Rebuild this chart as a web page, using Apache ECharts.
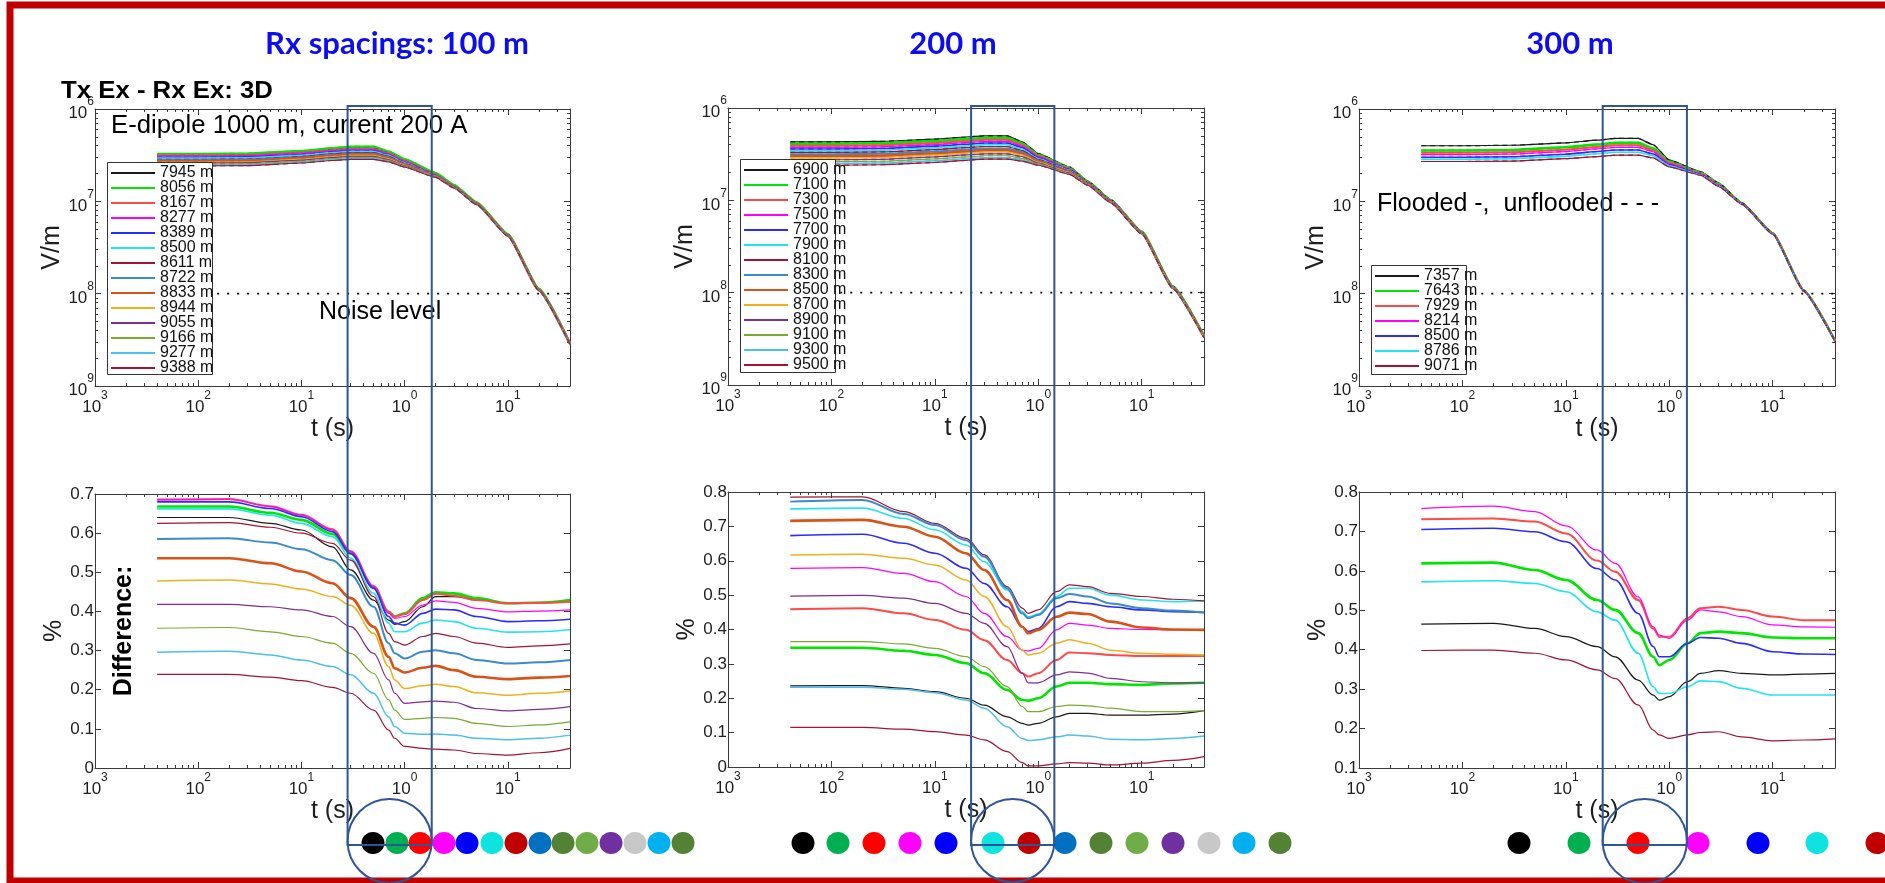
<!DOCTYPE html>
<html><head><meta charset="utf-8">
<script src="https://cdn.jsdelivr.net/npm/echarts@6/dist/echarts.min.js"></script>
<style>html,body{margin:0;padding:0;background:#fff;overflow:hidden}#c{width:1885px;height:883px}</style>
</head><body><div id="c"></div>
<script>
// ---------------- DATA ----------------
const T_TOP = [0.004, 0.01, 0.03, 0.1, 0.2, 0.3, 0.5, 0.7, 1, 2, 3, 5, 10, 20, 40];
const T_BOT = [0.004, 0.02, 0.05, 0.1, 0.2, 0.3, 0.5, 0.7, 0.8, 1, 1.5, 2, 3, 5, 10, 20, 40];

const RX_100 = ['7945 m','8056 m','8167 m','8277 m','8389 m','8500 m','8611 m','8722 m','8833 m','8944 m','9055 m','9166 m','9277 m','9388 m'];
const RX_200 = ['6900 m','7100 m','7300 m','7500 m','7700 m','7900 m','8100 m','8300 m','8500 m','8700 m','8900 m','9100 m','9300 m','9500 m'];
const RX_300 = ['7357 m','7643 m','7929 m','8214 m','8500 m','8786 m','9071 m'];

// Field amplitude (V/m) at T_TOP, one row per receiver
const FIELD_100 = [
 [3.2e-7,3.2e-7,3.22e-7,3.42e-7,3.65e-7,3.78e-7,3.78e-7,3.38e-7,2.8e-7,1.98e-7,1.48e-7,9.6e-8,4.4e-8,1.12e-8,2.9e-9],
 [3.25e-7,3.25e-7,3.28e-7,3.5e-7,3.75e-7,3.9e-7,3.9e-7,3.45e-7,2.85e-7,2.02e-7,1.5e-7,9.7e-8,4.4e-8,1.13e-8,2.9e-9],
 [3.15e-7,3.15e-7,3.17e-7,3.38e-7,3.6e-7,3.72e-7,3.72e-7,3.33e-7,2.76e-7,1.97e-7,1.47e-7,9.6e-8,4.38e-8,1.12e-8,2.9e-9],
 [3.1e-7,3.1e-7,3.12e-7,3.32e-7,3.55e-7,3.66e-7,3.66e-7,3.28e-7,2.72e-7,1.95e-7,1.46e-7,9.55e-8,4.37e-8,1.11e-8,2.9e-9],
 [3.0e-7,3.0e-7,3.03e-7,3.22e-7,3.44e-7,3.55e-7,3.55e-7,3.2e-7,2.66e-7,1.93e-7,1.45e-7,9.5e-8,4.35e-8,1.11e-8,2.88e-9],
 [2.95e-7,2.95e-7,2.97e-7,3.16e-7,3.37e-7,3.48e-7,3.48e-7,3.15e-7,2.62e-7,1.91e-7,1.44e-7,9.45e-8,4.34e-8,1.1e-8,2.88e-9],
 [2.85e-7,2.85e-7,2.87e-7,3.06e-7,3.27e-7,3.38e-7,3.38e-7,3.07e-7,2.57e-7,1.9e-7,1.44e-7,9.4e-8,4.32e-8,1.1e-8,2.87e-9],
 [2.8e-7,2.8e-7,2.82e-7,3.0e-7,3.2e-7,3.3e-7,3.3e-7,3.0e-7,2.53e-7,1.88e-7,1.43e-7,9.4e-8,4.3e-8,1.1e-8,2.87e-9],
 [2.72e-7,2.72e-7,2.74e-7,2.92e-7,3.12e-7,3.22e-7,3.22e-7,2.94e-7,2.49e-7,1.87e-7,1.42e-7,9.35e-8,4.28e-8,1.09e-8,2.86e-9],
 [2.65e-7,2.65e-7,2.67e-7,2.85e-7,3.04e-7,3.14e-7,3.14e-7,2.88e-7,2.45e-7,1.86e-7,1.42e-7,9.3e-8,4.27e-8,1.09e-8,2.86e-9],
 [2.6e-7,2.6e-7,2.62e-7,2.79e-7,2.98e-7,3.07e-7,3.07e-7,2.83e-7,2.42e-7,1.85e-7,1.41e-7,9.3e-8,4.25e-8,1.09e-8,2.85e-9],
 [2.52e-7,2.52e-7,2.54e-7,2.71e-7,2.9e-7,2.99e-7,2.99e-7,2.77e-7,2.39e-7,1.84e-7,1.41e-7,9.25e-8,4.24e-8,1.08e-8,2.85e-9],
 [2.47e-7,2.47e-7,2.49e-7,2.65e-7,2.84e-7,2.92e-7,2.92e-7,2.72e-7,2.37e-7,1.83e-7,1.4e-7,9.2e-8,4.22e-8,1.08e-8,2.84e-9],
 [2.42e-7,2.42e-7,2.44e-7,2.6e-7,2.77e-7,2.85e-7,2.85e-7,2.68e-7,2.35e-7,1.82e-7,1.4e-7,9.2e-8,4.2e-8,1.08e-8,2.84e-9]
];
const FIELD_200 = [
 [4.3e-7,4.3e-7,4.35e-7,4.6e-7,4.85e-7,5.0e-7,5.0e-7,4.3e-7,3.2e-7,2.3e-7,1.62e-7,1.02e-7,4.6e-8,1.18e-8,3.4e-9],
 [4.1e-7,4.1e-7,4.15e-7,4.4e-7,4.6e-7,4.75e-7,4.75e-7,4.15e-7,3.12e-7,2.26e-7,1.6e-7,1.01e-7,4.58e-8,1.17e-8,3.4e-9],
 [3.9e-7,3.9e-7,3.95e-7,4.18e-7,4.38e-7,4.52e-7,4.52e-7,3.98e-7,3.04e-7,2.22e-7,1.58e-7,1.0e-7,4.55e-8,1.16e-8,3.38e-9],
 [3.75e-7,3.75e-7,3.8e-7,4.02e-7,4.22e-7,4.35e-7,4.35e-7,3.85e-7,2.97e-7,2.19e-7,1.57e-7,9.95e-8,4.53e-8,1.16e-8,3.37e-9],
 [3.6e-7,3.6e-7,3.64e-7,3.86e-7,4.05e-7,4.17e-7,4.17e-7,3.72e-7,2.9e-7,2.16e-7,1.56e-7,9.9e-8,4.51e-8,1.15e-8,3.36e-9],
 [3.45e-7,3.45e-7,3.49e-7,3.7e-7,3.88e-7,4.0e-7,4.0e-7,3.59e-7,2.83e-7,2.13e-7,1.54e-7,9.85e-8,4.49e-8,1.15e-8,3.35e-9],
 [3.3e-7,3.3e-7,3.34e-7,3.54e-7,3.72e-7,3.83e-7,3.83e-7,3.46e-7,2.77e-7,2.1e-7,1.53e-7,9.8e-8,4.47e-8,1.14e-8,3.34e-9],
 [3.15e-7,3.15e-7,3.19e-7,3.38e-7,3.54e-7,3.65e-7,3.65e-7,3.33e-7,2.7e-7,2.07e-7,1.52e-7,9.75e-8,4.45e-8,1.14e-8,3.33e-9],
 [3.0e-7,3.0e-7,3.04e-7,3.22e-7,3.38e-7,3.48e-7,3.48e-7,3.2e-7,2.64e-7,2.04e-7,1.51e-7,9.7e-8,4.43e-8,1.13e-8,3.32e-9],
 [2.88e-7,2.88e-7,2.91e-7,3.09e-7,3.24e-7,3.34e-7,3.34e-7,3.09e-7,2.58e-7,2.01e-7,1.5e-7,9.65e-8,4.41e-8,1.13e-8,3.31e-9],
 [2.75e-7,2.75e-7,2.78e-7,2.95e-7,3.1e-7,3.19e-7,3.19e-7,2.97e-7,2.53e-7,1.98e-7,1.49e-7,9.6e-8,4.39e-8,1.12e-8,3.3e-9],
 [2.62e-7,2.62e-7,2.65e-7,2.81e-7,2.95e-7,3.04e-7,3.04e-7,2.85e-7,2.48e-7,1.95e-7,1.48e-7,9.55e-8,4.37e-8,1.12e-8,3.29e-9],
 [2.5e-7,2.5e-7,2.53e-7,2.68e-7,2.82e-7,2.9e-7,2.9e-7,2.74e-7,2.43e-7,1.93e-7,1.47e-7,9.5e-8,4.35e-8,1.11e-8,3.28e-9],
 [2.4e-7,2.4e-7,2.43e-7,2.57e-7,2.71e-7,2.8e-7,2.8e-7,2.66e-7,2.4e-7,1.91e-7,1.46e-7,9.45e-8,4.33e-8,1.11e-8,3.27e-9]
];
const FIELD_300 = [
 [4.0e-7,4.0e-7,4.05e-7,4.3e-7,4.6e-7,4.8e-7,4.8e-7,4.1e-7,2.8e-7,2.1e-7,1.58e-7,9.7e-8,4.55e-8,1.09e-8,3.1e-9],
 [3.55e-7,3.55e-7,3.6e-7,3.85e-7,4.12e-7,4.3e-7,4.3e-7,3.75e-7,2.7e-7,2.06e-7,1.55e-7,9.6e-8,4.52e-8,1.08e-8,3.1e-9],
 [3.35e-7,3.35e-7,3.4e-7,3.63e-7,3.88e-7,4.05e-7,4.05e-7,3.58e-7,2.63e-7,2.03e-7,1.53e-7,9.55e-8,4.5e-8,1.08e-8,3.09e-9],
 [3.2e-7,3.2e-7,3.25e-7,3.46e-7,3.7e-7,3.85e-7,3.85e-7,3.44e-7,2.57e-7,2.0e-7,1.51e-7,9.5e-8,4.48e-8,1.07e-8,3.08e-9],
 [3.0e-7,3.0e-7,3.04e-7,3.24e-7,3.46e-7,3.6e-7,3.6e-7,3.26e-7,2.5e-7,1.97e-7,1.49e-7,9.45e-8,4.46e-8,1.07e-8,3.07e-9],
 [2.85e-7,2.85e-7,2.89e-7,3.07e-7,3.28e-7,3.4e-7,3.4e-7,3.12e-7,2.43e-7,1.95e-7,1.47e-7,9.4e-8,4.44e-8,1.06e-8,3.06e-9],
 [2.7e-7,2.7e-7,2.73e-7,2.9e-7,3.05e-7,3.16e-7,3.16e-7,2.95e-7,2.36e-7,1.92e-7,1.45e-7,9.35e-8,4.42e-8,1.06e-8,3.05e-9]
];

// Difference (%) at T_BOT, one row per receiver
const DIFF_100 = [
 [0.640,0.640,0.625,0.608,0.565,0.506,0.429,0.378,0.367,0.374,0.412,0.438,0.438,0.431,0.421,0.422,0.427],
 [0.668,0.668,0.652,0.634,0.598,0.548,0.463,0.399,0.387,0.395,0.434,0.449,0.446,0.434,0.421,0.422,0.429],
 [0.686,0.687,0.669,0.647,0.610,0.554,0.465,0.399,0.387,0.393,0.429,0.445,0.440,0.429,0.421,0.422,0.425],
 [0.685,0.686,0.668,0.646,0.608,0.553,0.463,0.395,0.382,0.387,0.416,0.427,0.423,0.408,0.399,0.401,0.404],
 [0.680,0.680,0.663,0.642,0.604,0.548,0.459,0.387,0.370,0.365,0.395,0.406,0.404,0.387,0.374,0.376,0.380],
 [0.662,0.662,0.646,0.625,0.591,0.536,0.446,0.370,0.348,0.348,0.370,0.378,0.374,0.357,0.347,0.348,0.353],
 [0.625,0.627,0.615,0.600,0.574,0.531,0.438,0.344,0.323,0.314,0.336,0.344,0.336,0.319,0.308,0.312,0.317],
 [0.585,0.587,0.576,0.559,0.531,0.493,0.412,0.319,0.293,0.280,0.297,0.301,0.293,0.276,0.267,0.270,0.276],
 [0.536,0.536,0.523,0.502,0.472,0.434,0.361,0.284,0.255,0.244,0.256,0.261,0.250,0.233,0.227,0.231,0.235],
 [0.478,0.480,0.470,0.457,0.438,0.416,0.344,0.259,0.225,0.203,0.210,0.214,0.208,0.192,0.186,0.191,0.197],
 [0.418,0.418,0.412,0.404,0.387,0.361,0.293,0.225,0.191,0.165,0.169,0.171,0.168,0.152,0.146,0.150,0.157],
 [0.357,0.359,0.348,0.336,0.319,0.293,0.242,0.174,0.148,0.124,0.127,0.129,0.127,0.114,0.106,0.110,0.118],
 [0.296,0.298,0.289,0.276,0.259,0.238,0.191,0.131,0.106,0.089,0.086,0.087,0.084,0.076,0.072,0.076,0.084],
 [0.239,0.239,0.232,0.223,0.206,0.191,0.148,0.097,0.076,0.055,0.050,0.048,0.046,0.037,0.033,0.039,0.050]
];
const DIFF_200 = [
 [0.236,0.237,0.229,0.219,0.200,0.180,0.146,0.127,0.122,0.127,0.146,0.156,0.156,0.151,0.151,0.154,0.164],
 [0.347,0.347,0.338,0.326,0.302,0.273,0.224,0.195,0.193,0.200,0.234,0.245,0.245,0.241,0.239,0.243,0.245],
 [0.459,0.462,0.447,0.428,0.399,0.369,0.311,0.273,0.263,0.273,0.311,0.333,0.331,0.326,0.323,0.323,0.323],
 [0.578,0.580,0.563,0.539,0.496,0.447,0.379,0.340,0.338,0.345,0.399,0.418,0.413,0.403,0.400,0.399,0.399],
 [0.673,0.677,0.651,0.622,0.578,0.534,0.466,0.408,0.394,0.403,0.466,0.481,0.476,0.466,0.457,0.452,0.450],
 [0.751,0.753,0.723,0.690,0.646,0.597,0.515,0.452,0.437,0.445,0.496,0.520,0.520,0.500,0.486,0.481,0.483],
 [0.785,0.786,0.743,0.709,0.665,0.617,0.525,0.462,0.447,0.457,0.510,0.530,0.525,0.505,0.496,0.488,0.483],
 [0.772,0.777,0.736,0.704,0.660,0.612,0.520,0.447,0.433,0.442,0.491,0.503,0.496,0.476,0.462,0.455,0.449],
 [0.716,0.719,0.699,0.670,0.622,0.573,0.486,0.408,0.389,0.399,0.437,0.449,0.445,0.423,0.406,0.400,0.399],
 [0.617,0.619,0.607,0.588,0.544,0.496,0.408,0.340,0.326,0.331,0.360,0.370,0.360,0.340,0.331,0.328,0.326],
 [0.497,0.499,0.491,0.476,0.447,0.418,0.350,0.273,0.245,0.245,0.268,0.277,0.273,0.258,0.248,0.245,0.245],
 [0.365,0.365,0.358,0.345,0.321,0.292,0.234,0.176,0.161,0.161,0.176,0.180,0.178,0.171,0.161,0.161,0.164],
 [0.232,0.232,0.226,0.216,0.195,0.171,0.117,0.083,0.077,0.079,0.088,0.093,0.090,0.081,0.079,0.083,0.090],
 [0.115,0.115,0.110,0.103,0.093,0.079,0.045,0.013,0.003,0.003,0.009,0.013,0.011,0.006,0.011,0.019,0.030]
];
const DIFF_300 = [
 [0.465,0.467,0.454,0.433,0.408,0.382,0.323,0.285,0.272,0.281,0.319,0.340,0.347,0.340,0.336,0.338,0.340],
 [0.619,0.621,0.602,0.577,0.526,0.501,0.442,0.382,0.361,0.374,0.416,0.442,0.446,0.442,0.431,0.429,0.429],
 [0.731,0.733,0.725,0.695,0.626,0.598,0.526,0.454,0.433,0.433,0.480,0.505,0.509,0.501,0.484,0.475,0.475],
 [0.758,0.764,0.750,0.714,0.653,0.619,0.534,0.458,0.437,0.429,0.475,0.501,0.496,0.484,0.463,0.458,0.457],
 [0.705,0.708,0.699,0.674,0.606,0.577,0.492,0.408,0.382,0.382,0.416,0.431,0.429,0.416,0.395,0.389,0.388],
 [0.572,0.575,0.568,0.547,0.496,0.475,0.391,0.306,0.289,0.289,0.306,0.321,0.319,0.302,0.285,0.285,0.285],
 [0.398,0.399,0.391,0.374,0.349,0.327,0.260,0.196,0.184,0.175,0.184,0.190,0.192,0.179,0.169,0.171,0.174]
];

const NOISE_LEVEL = 1e-8;
const NOISE_T = [0.004, 40];

// tick labels
const X_TICK_VALUES = [0.001, 0.01, 0.1, 1, 10];
const X_TICK_EXP = ['3', '2', '1', '0', '1'];
const Y_TOP_TICK_VALUES = [1e-6, 1e-7, 1e-8, 1e-9];
const Y_TOP_TICK_EXP = ['6', '7', '8', '9'];

// highlighted time windows (s)
const WINDOW_T_100 = [0.28, 1.83];
const WINDOW_T_200 = [0.224, 1.43];
const WINDOW_T_300 = [0.227, 1.48];

// ---------------- STYLE / LAYOUT ----------------
const FONT = "'Liberation Sans', Arial, Helvetica, sans-serif";
const AX = '#3a3a3a';
const TXT = '#1e1e1e';
const SERIES_COLORS = ['#1a1a1a','#00E600','#FF4848','#FF00FF','#2B2BFF','#22E4EE','#A2142F','#3A8BCB','#D95319','#EDB120','#7E2F8E','#77AC30','#4DBEEE','#A2142F'];
const SERIES_WIDTHS = [1.2,2.6,2.0,1.2,1.6,1.6,1.2,2.0,2.6,1.5,1.2,1.2,1.5,1.2];
const COLOR_IDX_FULL = [0,1,2,3,4,5,6,7,8,9,10,11,12,13];
const COLOR_IDX_300 = [0,1,2,3,4,5,13];
const DOT_COLORS = ['#000000','#00B050','#FF0000','#FF00FF','#0000FF','#0FE3E0','#C00000','#0070C0','#548235','#70AD47','#7030A0','#C8C8C8','#00B0F0','#548235'];

const GRIDS = [
  {left:95,  top:109, width:475, height:277},
  {left:728, top:108, width:476, height:277},
  {left:1359,top:109, width:476, height:277},
  {left:95,  top:494, width:475, height:274},
  {left:728, top:492, width:476, height:275},
  {left:1359,top:492, width:476, height:276}
];
const DOTS_X = [
  [373,397,420,444,467,492,516,540,563,587,611,635,659,683],
  [803,838,874,910,946,993,1029,1065,1101,1137,1173,1209,1244,1280],
  [1519,1579,1638,1698,1758,1817,1877]
];
const DOT_Y = 843;

const PANELS = [
  {names:RX_100, field:FIELD_100, diff:DIFF_100, cidx:COLOR_IDX_FULL, win:WINDOW_T_100, key:'a', ymin:0,   ymax:0.7},
  {names:RX_200, field:FIELD_200, diff:DIFF_200, cidx:COLOR_IDX_FULL, win:WINDOW_T_200, key:'b', ymin:0,   ymax:0.8},
  {names:RX_300, field:FIELD_300, diff:DIFF_300, cidx:COLOR_IDX_300,  win:WINDOW_T_300, key:'c', ymin:0.1, ymax:0.8}
];

const RICH = {
  b: {fontSize:17, color:TXT, fontFamily:FONT, lineHeight:26, verticalAlign:'bottom'},
  s: {fontSize:12, color:TXT, fontFamily:FONT, lineHeight:13, verticalAlign:'top'}
};
function near(a, b){ return Math.abs(Math.log10(a) - Math.log10(b)) < 1e-6; }
function xFmt(v){ for (let i=0;i<X_TICK_VALUES.length;i++) if (near(v, X_TICK_VALUES[i])) return '{b|10}{s|' + X_TICK_EXP[i] + '}'; return ''; }
function yTopFmt(v){ for (let i=0;i<Y_TOP_TICK_VALUES.length;i++) if (near(v, Y_TOP_TICK_VALUES[i])) return '{b|10}{s|' + Y_TOP_TICK_EXP[i] + '}'; return ''; }

function axisCommon(){
  return {
    axisLine:{show:true, onZero:false, lineStyle:{color:AX, width:1}},
    axisTick:{show:true, inside:true, length:6, lineStyle:{color:AX, width:1}},
    splitLine:{show:false}, minorSplitLine:{show:false}
  };
}
const xAxes = [], yAxes = [];
GRIDS.forEach((g, gi) => {
  const isTop = gi < 3;
  const p = PANELS[gi % 3];
  const baseX = Object.assign(axisCommon(), {type:'log', logBase:10, gridIndex:gi, min:0.001, max:40,
    minorTick:{show:true, splitNumber:9, length:3, lineStyle:{color:AX, width:1}}});
  xAxes.push(Object.assign({}, baseX, {position:'bottom', name:'t (s)', nameLocation:'middle', nameGap:23,
    nameTextStyle:{fontSize:25, color:TXT, fontFamily:FONT},
    axisLabel:{show:true, margin:4, formatter:xFmt, rich:RICH, showMaxLabel:false}}));
  xAxes.push(Object.assign({}, baseX, {position:'top', axisLabel:{show:false}, name:''}));
  let baseY;
  if (isTop) {
    baseY = Object.assign(axisCommon(), {type:'log', logBase:10, gridIndex:gi, min:1e-9, max:1e-6,
      minorTick:{show:true, splitNumber:9, length:3, lineStyle:{color:AX, width:1}}});
    yAxes.push(Object.assign({}, baseY, {position:'left', name:'V/m', nameLocation:'middle', nameRotate:90, nameGap:27,
      nameTextStyle:{fontSize:25, color:TXT, fontFamily:FONT},
      axisLabel:{show:true, margin:1, formatter:yTopFmt, rich:RICH}}));
  } else {
    baseY = Object.assign(axisCommon(), {type:'value', gridIndex:gi, min:p.ymin, max:p.ymax, interval:0.1});
    yAxes.push(Object.assign({}, baseY, {position:'left', name:'%', nameLocation:'middle', nameRotate:90, nameGap:23,
      nameTextStyle:{fontSize:25, color:TXT, fontFamily:FONT},
      axisLabel:{show:true, margin:1, fontSize:17, color:TXT, fontFamily:FONT}}));
  }
  yAxes.push(Object.assign({}, baseY, {position:'right', axisLabel:{show:false}, name:''}));
});

function lineSeries(name, gi, ts, vals, color, width, dashed, smooth){
  return {type:'line', name, xAxisIndex:2*gi, yAxisIndex:2*gi, data:ts.map((t,i)=>[t, vals[i]]),
    symbol:'none', showSymbol:false, smooth:smooth, smoothMonotone:'x', silent:true, animation:false,
    lineStyle:{color, width, type: dashed ? [5,4] : 'solid'}, itemStyle:{color}, emphasis:{disabled:true}};
}
const series = [];
PANELS.forEach((p, pi) => {
  p.names.forEach((n, i) => {
    const ci = p.cidx[i];
    series.push(lineSeries(p.key + '|' + n, pi, T_TOP, p.field[i], SERIES_COLORS[ci], SERIES_WIDTHS[ci], false, 0.15));
  });
  p.names.forEach((n, i) => {
    const ci = p.cidx[i];
    series.push(lineSeries(p.key + '|' + n + '|u', pi, T_TOP, p.field[i], SERIES_COLORS[ci], Math.max(1.2, SERIES_WIDTHS[ci]-0.6), true, 0.15));
  });
  series.push({type:'line', name:'noise'+pi, xAxisIndex:2*pi, yAxisIndex:2*pi, data:NOISE_T.map(t=>[t, NOISE_LEVEL]),
    symbol:'none', silent:true, lineStyle:{color:'#000', width:1.6, type:[2,8]}, z:1});
  p.names.forEach((n, i) => {
    const ci = p.cidx[i];
    series.push(lineSeries(p.key + 'd|' + n, pi+3, T_BOT, p.diff[i], SERIES_COLORS[ci], SERIES_WIDTHS[ci], false, 0.35));
  });
});

const LEGEND_POS = [{left:107, top:162}, {left:740, top:159}, {left:1371, top:265}];
const legends = PANELS.map((p, pi) => ({
  orient:'vertical', left:LEGEND_POS[pi].left, top:LEGEND_POS[pi].top, padding:[3,3,3,3],
  itemWidth:44, itemHeight:14, itemGap:-1, selectedMode:false, z:8,
  itemStyle:{color:'rgba(0,0,0,0)', borderColor:'rgba(0,0,0,0)', borderWidth:0, opacity:0},
  data:p.names.map(n => p.key + '|' + n),
  formatter:(name) => name.split('|')[1],
  textStyle:{fontSize:16, lineHeight:14, color:'#111', fontFamily:FONT}
}));

const chart = echarts.init(document.getElementById('c'), null, {renderer:'canvas'});
chart.setOption({
  animation:false, backgroundColor:'#ffffff',
  grid: GRIDS.map(g => Object.assign({show:false, containLabel:false}, g)),
  xAxis: xAxes, yAxis: yAxes, legend: legends, series
});

// -------- decorations --------
const LEG_BOX = [[107,162,105,212],[740,159,95,213],[1371,265,95,109]];
const g = [];
g.push({type:'rect', z:0, silent:true, shape:{x:10, y:5, width:1900, height:876}, style:{fill:'rgba(0,0,0,0)', stroke:'#C00000', lineWidth:7}});
LEG_BOX.forEach(b => g.push({type:'rect', z:5, silent:true, shape:{x:b[0]+0.5, y:b[1]+0.5, width:b[2], height:b[3]}, style:{fill:'#ffffff', stroke:'#333', lineWidth:1}}));
function txt(text, x, y, font, fill, align, extra){
  return Object.assign({type:'text', z:20, silent:true, x, y, style:{text, font, fill, align:align||'left', verticalAlign:'middle'}}, extra||{});
}
const TITLE_FONT = "bold 31px Lato, 'Open Sans', sans-serif";
g.push(txt('Rx spacings: 100 m', 397, 44, TITLE_FONT, '#0D0DF0', 'center'));
g.push(txt('200 m', 953, 44, TITLE_FONT, '#0D0DF0', 'center'));
g.push(txt('300 m', 1570, 44, TITLE_FONT, '#0D0DF0', 'center'));
g.push(txt('Tx Ex - Rx Ex: 3D', 61, 92, "bold 23px 'Liberation Sans', Arial, sans-serif", '#000', 'left', {scaleX:1.12}));
g.push(txt('E-dipole 1000 m, current 200 A', 111, 126, "25px 'Liberation Sans', Arial, sans-serif", '#000', 'left', {scaleX:1.03}));
g.push(txt('Noise level', 319, 312, "25px 'Liberation Sans', Arial, sans-serif", '#000', 'left'));
g.push(txt('Flooded -,  unflooded - - -', 1377, 204, "25px 'Liberation Sans', Arial, sans-serif", '#000', 'left'));
g.push(txt('Difference:', 124, 631, "bold 25px 'Liberation Sans', Arial, sans-serif", '#000', 'center', {rotation:Math.PI/2}));
DOTS_X.forEach(row => row.forEach((x, i) => {
  g.push({type:'ellipse', z:15, silent:true, shape:{cx:x, cy:DOT_Y, rx:11.5, ry:11}, style:{fill:DOT_COLORS[i], stroke:null}});
}));
PANELS.forEach((p, pi) => {
  const x0 = chart.convertToPixel({xAxisIndex:2*pi}, p.win[0]);
  const x1 = chart.convertToPixel({xAxisIndex:2*pi}, p.win[1]);
  const st = {fill:'rgba(0,0,0,0)', stroke:'#2F5597', lineWidth:2};
  g.push({type:'rect', z:30, silent:true, shape:{x:x0, y:106, width:x1-x0, height:845-106}, style:st});
  const r = (x1-x0)/2;
  g.push({type:'circle', z:30, silent:true, shape:{cx:(x0+x1)/2, cy:799+r, r}, style:st});
});
chart.setOption({graphic: g});
</script>
</body></html>
